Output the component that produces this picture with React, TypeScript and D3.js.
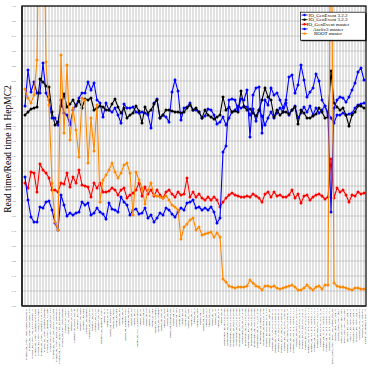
import React, { useEffect, useRef } from "react";
import * as d3 from "d3";

// test samples on the x axis (one bin each)
const categories = [
    "Pythia8_pp_13TeV_ttbar_allhad_NNPDF31", "Pythia8_pp_13TeV_ttbar_dilep_A14", "Pythia8_pp_13TeV_Zee_CT14_noMPI_v2",
    "Pythia8_pp_13TeV_Zmumu_CT14_MPI", "Pythia8_pp_13TeV_Wenu_CT14_tuneA", "Pythia8_pp_13TeV_Wmunu_CT14_A14",
    "Pythia8_pp_13TeV_minbias_Monash", "Pythia8_pp_13TeV_minbias_A2_tune", "Pythia8_pp_13TeV_jets_pT200_A14",
    "Pythia8_pp_13TeV_jets_pT500_A14_hadr", "Pythia8_pp_13TeV_higgs_ggF_4l_NNPDF30", "Pythia8_pp_13TeV_higgs_VBF_bb_NNPDF30",
    "Pythia8_pp_8TeV_dijet_Monash",
    "Herwig7_ee_91GeV", "Herwig7_ee_189GeV", "Herwig7_ee_91_bb", "Herwig7_ep_HERA_DIS_nc", "Herwig7_pp_Zee",
    "Herwig7_pp_Wenu", "Herwig7_pp_ttbar", "Herwig7_pp_minbias", "Herwig7_pp_dijet_pT100", "Herwig7_pp_H_gg",
    "Herwig7_pp_H_ZZ", "Herwig7_pp_VBF", "Herwig7_pp_diphoton_13TeV", "Sherpa_ee_Z", "Sherpa_ee_WW",
    "Sherpa_pp_Zjets_MEPS", "Sherpa_pp_Wjets", "Sherpa_pp_ttbar", "Sherpa_pp_ttH", "Sherpa_pp_4l",
    "Sherpa_pp_gammajet_NLO", "Sherpa_pp_dijet", "Sherpa_pp_Hjj", "Sherpa_pp_ZZ", "Sherpa_pp_WZ_3l_MEPSatNLO",
    "Sherpa_pp_tW", "Sherpa_pp_bb", "Sherpa_pp_tZq", "Sherpa_ep_DIS", "Sherpa_gg_ttbar", "Sherpa_pp_Wgamma",
    "Sherpa_pp_Zgamma", "Sherpa_pp_ttbb_4F", "Sherpa_pp_Wbb", "Sherpa_pp_mb", "Sherpa_pp_inclusive_jets",
    "Sherpa_pp_ZH", "Sherpa_pp_WH", "Sherpa_pp_ttW", "Sherpa_pp_ttZ", "Sherpa_pp_HH", "Sherpa_pp_Vjets",
    "Sherpa_pp_VV", "Sherpa_pp_tj", "Sherpa_pp_4top", "Sherpa_pp_yy", "Sherpa_pp_tt_dilep", "Sherpa_pp_tt_lj",
    "Sherpa_pp_Zbb", "Sherpa_pp_Wc", "Sherpa_pp_Zc", "Sherpa_pp_WW", "Sherpa_pp_ee",
    "MadGraph5_pp_ttH_LO_Py8sh", "MadGraph5_pp_ttZ_LO_Py8sh", "MadGraph5_pp_ttW_LO_Py8sh", "MadGraph5_pp_tHq_LO_Py8sh",
    "MadGraph5_pp_Zjj_LO_Py8sh", "MadGraph5_pp_Wjj_LO_Py8sh", "MadGraph5_pp_tttt_LO_Py8s", "MadGraph5_pp_HH_LO_Py8sh",
    "MadGraph5_pp_VBF_LO_Py8sh", "MadGraph5_pp_Zpr_LO_Py8sh", "MadGraph5_pp_Wpr_LO_Py8sh", "MadGraph5_pp_SUSY_LO_Py8s",
    "MadGraph5_pp_gluino_Py8sh", "MadGraph5_pp_stop_LO_Py8s",
    "Powheg_pp_hvq_ttbar_Py8_A14", "Powheg_pp_hvq_ttbar_Hw7_def", "Powheg_pp_Z_ee_Py8_AZNLO_v1", "Powheg_pp_Z_mm_Py8_AZNLO_v1",
    "Powheg_pp_W_en_Py8_AZNLO_v1", "Powheg_pp_W_mn_Py8_AZNLO_v1", "Powheg_pp_ggH_4l_Py8_AZNLO1", "Powheg_pp_VBFH_Py8_AZNLO_v1",
    "Powheg_pp_ZH_Py8_AZNLO_v1_a", "Powheg_pp_WH_Py8_AZNLO_v1_a", "Powheg_pp_dijet_Py8_A14_v1a", "Powheg_pp_ST_tch_Py8_A14_v1",
    "Powheg_pp_ST_sch_Py8_A14_v1", "Powheg_pp_ST_tW_Py8_A14_v1a", "Powheg_pp_WW_Py8_AZNLO_v1_a", "Powheg_pp_WZ_Py8_AZNLO_v1_a",
    "Powheg_pp_ZZ_Py8_AZNLO_v1_a", "Powheg_pp_bb4l_Py8_A14_v1_a", "Powheg_pp_ttj_Py8_A14_v1_ab", "Powheg_pp_Zj_Py8_AZNLO_v1_a",
    "Powheg_pp_Wj_Py8_AZNLO_v1_a", "Powheg_pp_Hj_Py8_AZNLO_v1_a",
    "EPOS_PbPb_5TeV_heavy_ion_central_full_rec",
    "HIJING_pPb_5TeV_mb_v1", "HIJING_PbPb_5TeV_mb_1", "EPOS_pp_13TeV_mb_LHC1", "EPOS_pPb_5TeV_mb_LHC1",
    "QGSJET_pp_13TeV_mb_v1", "SIBYLL_pp_13TeV_mb_v1", "DPMJET_pp_13TeV_mb_v1", "PHOJET_pp_13TeV_mb_v1",
    "Whizard_ee_ZH_250GeV1", "Whizard_ee_tt_500GeV1", "KKMC_ee_mumu_91GeV_v1",
];

const ioGenEvent322 = [
    2.00, 2.36, 2.14, 2.24, 2.13, 2.13, 2.43, 2.13, 2.06, 1.88,
    1.88, 1.81, 2.06, 1.93, 1.91, 1.81, 1.96, 2.01, 2.08, 2.13,
    2.13, 2.24, 2.16, 2.23, 2.06, 2.03, 1.89, 2.03, 1.96, 1.94,
    1.98, 1.91, 1.83, 2.02, 1.98, 1.98, 1.99, 1.94, 1.93, 1.94,
    1.93, 1.91, 1.78, 2.03, 2.07, 1.88, 1.91, 1.89, 1.84, 2.14,
    2.26, 2.15, 1.86, 1.98, 1.99, 2.03, 1.96, 1.96, 1.94, 1.88,
    1.90, 1.97, 1.96, 1.91, 1.82, 1.84, 1.89, 1.81, 1.88, 1.94,
    1.96, 2.00, 1.98, 2.00, 1.99, 1.91, 1.97, 1.85, 1.96, 1.90,
    1.81, 1.88, 1.94, 1.88, 1.93, 1.98, 1.94, 2.03, 1.91, 1.96,
    2.00, 1.88, 1.93, 1.99, 1.94, 2.00, 1.91, 1.98, 1.93, 1.96,
    2.00, 1.93, 1.88, 1.83, 1.91, 1.91, 1.93, 1.91, 1.92, 1.93,
    1.98, 2.01, 2.02, 2.03,
];

const ioGenEvent323 = [
    1.91, 1.94, 1.97, 1.98, 1.99, 2.27, 2.24, 2.20, 2.19, 1.94,
    1.81, 1.84, 2.00, 2.12, 1.99, 2.02, 2.06, 2.00, 2.05, 1.98,
    2.07, 2.06, 2.08, 1.96, 1.98, 2.00, 1.99, 1.96, 1.96, 2.02,
    2.07, 1.99, 1.93, 1.98, 1.88, 1.91, 1.93, 2.00, 1.95, 1.83,
    1.99, 1.93, 1.96, 2.02, 2.06, 1.88, 1.91, 1.96, 1.96, 1.95,
    1.94, 1.94, 1.93, 1.94, 1.98, 2.01, 1.96, 1.98, 1.94, 1.88,
    1.96, 1.91, 1.89, 1.87, 1.89, 1.91, 2.09, 1.96, 1.99, 1.94,
    1.95, 1.94, 2.15, 1.99, 1.96, 1.97, 1.93, 1.90, 1.96, 2.06,
    2.18, 2.09, 2.06, 1.89, 1.96, 1.91, 1.94, 1.94, 1.92, 1.96,
    1.99, 1.82, 1.96, 1.93, 1.88, 1.88, 1.90, 1.92, 1.98, 1.94,
    1.88, 1.89, 2.35, 2.03, 1.99, 1.96, 1.98, 1.91, 1.80, 1.91,
    1.94, 2.00, 2.00, 1.98,
];

const ioGenEventMaster = [
    1.23, 1.18, 1.34, 1.33, 1.14, 1.42, 1.36, 1.33, 1.28, 1.16,
    1.16, 1.14, 1.23, 1.22, 1.33, 1.19, 1.29, 1.23, 1.36, 1.21,
    1.20, 1.19, 1.09, 1.23, 1.18, 1.23, 1.14, 1.14, 1.15, 1.18,
    1.16, 1.11, 1.16, 1.18, 1.08, 1.11, 1.13, 1.16, 1.23, 1.10,
    1.19, 1.12, 1.16, 1.10, 1.16, 1.11, 1.08, 1.14, 1.16, 1.12,
    1.09, 1.14, 1.11, 1.12, 1.28, 1.09, 1.14, 1.09, 1.12, 1.08,
    1.06, 1.09, 1.06, 1.09, 1.06, 0.99, 1.04, 1.08, 1.11, 1.13,
    1.11, 1.10, 1.09, 1.09, 1.10, 1.09, 1.12, 1.10, 1.08, 1.04,
    1.12, 1.14, 1.09, 1.14, 1.10, 1.11, 1.09, 1.09, 1.11, 1.16,
    1.08, 1.12, 1.03, 1.10, 1.11, 1.06, 1.09, 1.11, 1.12, 1.10,
    1.07, 1.09, 1.47, 1.08, 1.18, 1.14, 1.16, 1.11, 1.04, 1.11,
    1.10, 1.14, 1.12, 1.13,
];

const asciiV3Master = [
    1.29, 1.06, 0.89, 0.84, 0.84, 0.99, 0.98, 1.04, 1.05, 0.96,
    0.83, 0.76, 1.11, 1.01, 0.90, 0.93, 0.91, 0.93, 0.94, 1.04,
    1.01, 1.03, 0.91, 0.93, 0.98, 0.94, 0.92, 0.87, 1.03, 0.97,
    0.96, 0.94, 1.09, 1.04, 1.01, 0.91, 0.96, 0.97, 0.92, 0.93,
    0.98, 0.88, 0.91, 0.84, 0.88, 0.93, 0.91, 0.98, 0.96, 0.92,
    0.89, 0.94, 0.98, 0.96, 1.03, 1.04, 1.06, 0.98, 0.99, 0.96,
    0.98, 0.96, 0.99, 0.94, 0.83, 0.88, 1.54, 1.60, 2.06, 2.07,
    2.06, 1.96, 2.07, 2.06, 2.16, 1.69, 2.11, 2.18, 2.19, 1.73,
    2.06, 2.01, 2.18, 2.11, 2.13, 2.06, 1.98, 2.06, 2.29, 2.31,
    2.13, 2.21, 2.41, 2.26, 2.09, 2.14, 2.18, 2.32, 2.25, 2.06,
    2.00, 1.91, 0.94, 1.98, 2.06, 2.09, 2.08, 2.04, 2.09, 2.16,
    2.23, 2.34, 2.38, 2.26,
];

const rootMaster = [
    2.17, 2.08, 2.03, 2.11, 2.46, 4.5, 4.5, 2.44, 2.01, 1.23,
    0.84, 0.76, 2.51, 1.73, 2.41, 1.66, 1.98, 1.76, 1.49, 2.08,
    2.06, 1.43, 1.88, 1.55, 2.01, 1.04, 1.26, 1.31, 1.36, 1.43,
    1.34, 1.28, 1.33, 1.41, 1.43, 1.33, 0.91, 1.34, 1.26, 1.18,
    1.02, 1.16, 1.23, 1.11, 1.10, 1.09, 1.08, 1.10, 1.06, 1.01,
    0.99, 0.96, 0.67, 0.79, 0.82, 0.86, 0.88, 0.76, 0.79, 0.71,
    0.72, 0.73, 0.74, 0.69, 0.73, 0.69, 0.27, 0.24, 0.20, 0.19,
    0.18, 0.19, 0.19, 0.19, 0.20, 0.26, 0.23, 0.20, 0.19, 0.16,
    0.20, 0.20, 0.19, 0.20, 0.18, 0.17, 0.18, 0.19, 0.20, 0.21,
    0.19, 0.16, 0.16, 0.18, 0.21, 0.18, 0.16, 0.19, 0.20, 0.17,
    0.21, 0.21, 4.5, 0.23, 0.20, 0.19, 0.19, 0.18, 0.17, 0.16,
    0.18, 0.18, 0.17, 0.17,
];

const yTicks = [0, 0.15, 0.3, 0.45, 0.6, 0.75, 0.9, 1.05, 1.2, 1.35, 1.5, 1.65, 1.8, 1.95, 2.1, 2.25, 2.4, 2.55, 2.7, 2.85, 3.0];

const legendNames = ["IO_GenEvent 3.2.2", "IO_GenEvent 3.2.3", "IO_GenEvent master", "Asciiv3 master", "ROOT master"];
const legendColors = ["#0000ff", "#000000", "#ff0000", "#0000ff", "#ff8800"];
const seriesValues = [ioGenEvent322, ioGenEvent323, ioGenEventMaster, asciiV3Master, rootMaster];

const App = () => {
    const ref = useRef<SVGSVGElement>(null);

    useEffect(() => {
        if (!ref.current) return;
        const svg = d3.select(ref.current);
        svg.selectAll("*").remove();

        const left = 22, right = 366, top = 6, bottom = 306;
        const idx = d3.range(categories.length);

        const x = d3.scalePoint<number>().domain(idx).range([25, 364]);
        const y = d3.scaleLinear().domain([0, 3]).range([bottom, top]);

        svg.append("rect").attr("width", 370).attr("height", 377).attr("fill", "#fff");

        svg.append("clipPath").attr("id", "plotclip")
            .append("rect").attr("x", left).attr("y", top)
            .attr("width", right - left).attr("height", bottom - top);

        // grid
        svg.append("g").selectAll("line").data(yTicks).enter().append("line")
            .attr("x1", left).attr("x2", right)
            .attr("y1", (d) => y(d)).attr("y2", (d) => y(d))
            .attr("stroke", "#cfcfcf").attr("stroke-width", 1);
        svg.append("g").selectAll("line").data(idx).enter().append("line")
            .attr("x1", (d) => x(d)!).attr("x2", (d) => x(d)!)
            .attr("y1", top).attr("y2", bottom)
            .attr("stroke", "#b4b4b4").attr("stroke-width", 0.8);

        // series
        const plot = svg.append("g").attr("clip-path", "url(#plotclip)");
        const line = d3.line<number>().x((_, i) => x(i)!).y((d) => y(d));
        seriesValues.forEach((vals, s) => {
            plot.append("path").datum(vals)
                .attr("d", line)
                .attr("fill", "none")
                .attr("stroke", legendColors[s])
                .attr("stroke-width", 1.1);
            plot.append("g").selectAll("circle").data(vals).enter().append("circle")
                .attr("cx", (_, i) => x(i)!)
                .attr("cy", (d) => y(d))
                .attr("r", 1.5)
                .attr("fill", legendColors[s]);
        });

        // frame
        svg.append("rect").attr("x", left).attr("y", top)
            .attr("width", right - left).attr("height", bottom - top)
            .attr("fill", "none").attr("stroke", "#000").attr("stroke-width", 1.2);
        svg.append("line").attr("x1", left).attr("x2", left).attr("y1", top).attr("y2", bottom)
            .attr("stroke", "#222").attr("stroke-width", 1.6);
        svg.append("line").attr("x1", left).attr("x2", right).attr("y1", bottom).attr("y2", bottom)
            .attr("stroke", "#333").attr("stroke-width", 1.6);

        // y axis labels (tiny)
        const yAxis = d3.axisLeft(y).tickValues(yTicks).tickSize(0).tickFormat(d3.format(".2f"));
        const gy = svg.append("g").attr("transform", `translate(${left - 3},0)`).call(yAxis);
        gy.select(".domain").remove();
        gy.selectAll("text").attr("font-size", 2.4).attr("fill", "#555")
            .attr("font-family", "Liberation Serif");

        // x axis labels, vertical
        const xAxis = d3.axisBottom(x).tickSize(0).tickFormat((d) => categories[d as number]);
        const gx = svg.append("g").attr("transform", `translate(0,${bottom})`).call(xAxis);
        gx.select(".domain").remove();
        gx.selectAll("text")
            .attr("transform", "rotate(-90)")
            .attr("text-anchor", "end")
            .attr("x", -2.5).attr("y", 0).attr("dy", "0.35em")
            .attr("font-size", 2.9).attr("fill", "#111")
            .attr("font-family", "Liberation Serif");

        // y title
        svg.append("text")
            .attr("transform", "translate(11,149) rotate(-90)")
            .attr("text-anchor", "middle")
            .attr("font-family", "Liberation Serif")
            .attr("font-size", 9.5)
            .text("Read time/Read time in HepMC2");

        // legend
        const lg = svg.append("g");
        lg.append("rect").attr("x", 301.5).attr("y", 13.2).attr("width", 65).attr("height", 28).attr("fill", "#000");
        lg.append("rect").attr("x", 300.5).attr("y", 12.2).attr("width", 65).attr("height", 28)
            .attr("fill", "#fff").attr("stroke", "#000").attr("stroke-width", 0.7);
        legendNames.forEach((name, i) => {
            const ly = 15 + i * 4.65;
            lg.append("line").attr("x1", 301.5).attr("x2", 307.5).attr("y1", ly).attr("y2", ly)
                .attr("stroke", legendColors[i]).attr("stroke-width", 0.9);
            lg.append("circle").attr("cx", 304.5).attr("cy", ly).attr("r", 1.2).attr("fill", legendColors[i]);
            lg.append("text").attr("x", 328).attr("y", ly).attr("dy", "0.35em")
                .attr("text-anchor", "middle")
                .attr("font-family", "Liberation Serif")
                .attr("font-size", 5)
                .text(name);
        });
    }, []);

    return (
        <svg
            ref={ref}
            width={370}
            height={377}
            style={{ position: "absolute", left: 0, top: 0 }}
        />
    );
};

export default App;
